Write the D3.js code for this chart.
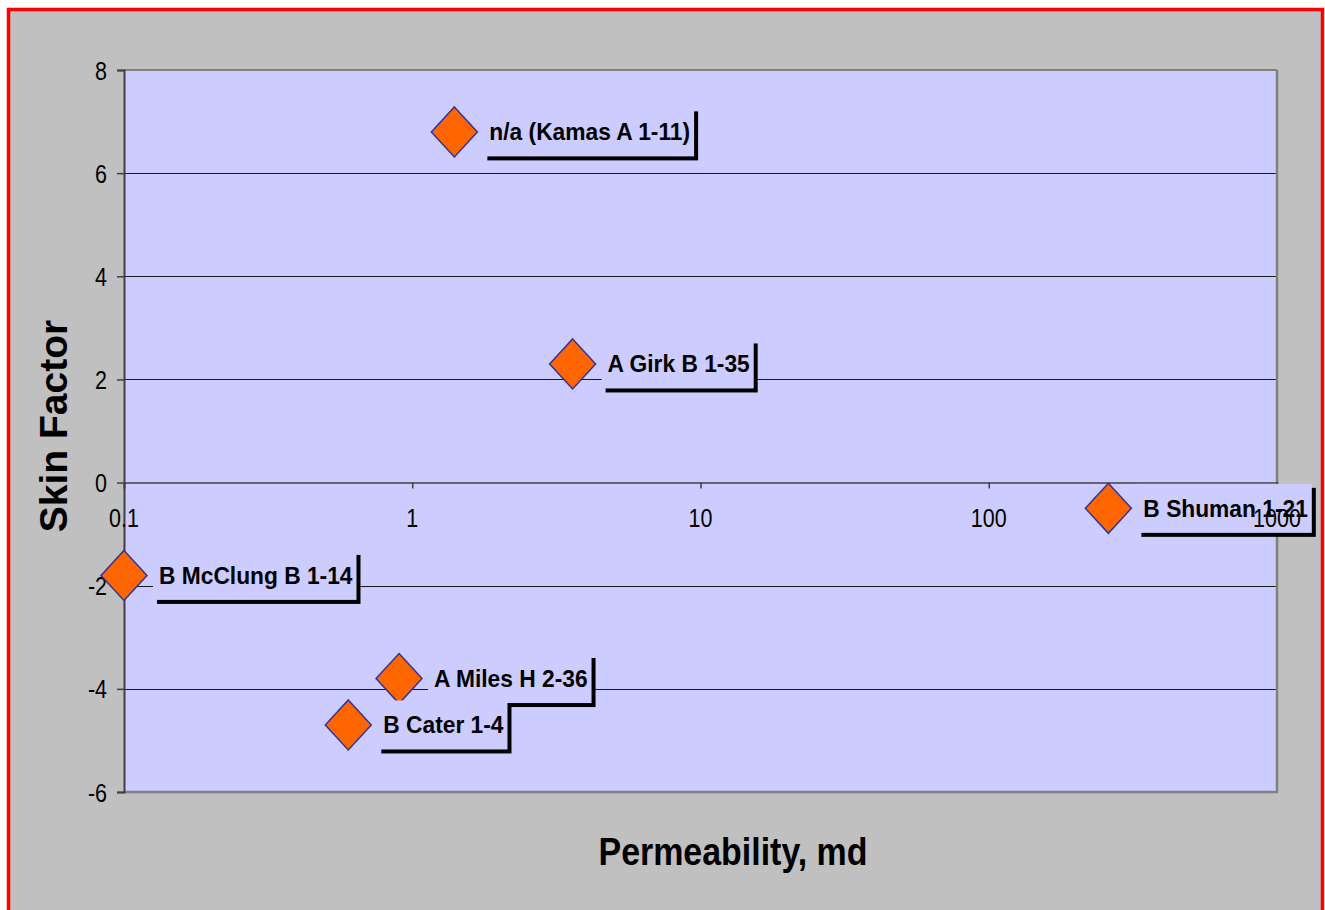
<!DOCTYPE html>
<html>
<head>
<meta charset="utf-8">
<script src="https://cdn.jsdelivr.net/npm/d3@7/dist/d3.min.js"></script>
<style>
  html, body { margin: 0; padding: 0; background: #ffffff; }
  svg { display: block; }
  text { font-family: "Liberation Sans", Arial, sans-serif; }
</style>
</head>
<body>
<svg id="chart" width="1325" height="910"></svg>
<script>
// ---- data ----
const wells = ["n/a (Kamas A 1-11)", "A Girk B 1-35", "B Shuman 1-21", "B McClung B 1-14", "A Miles H 2-36", "B Cater 1-4"];
const permeability = [1.4, 3.6, 260, 0.1, 0.9, 0.6];
const skinFactor = [6.8, 2.3, -0.5, -1.8, -3.8, -4.7];
const xTicks = [0.1, 1, 10, 100, 1000];
const xTickLabels = ["0.1", "1", "10", "100", "1000"];
const yTicks = [-6, -4, -2, 0, 2, 4, 6, 8];
const yTickLabels = ["-6", "-4", "-2", "0", "2", "4", "6", "8"];
const xTitle = "Permeability, md";
const yTitle = "Skin Factor";

const svg = d3.select("#chart");
const plot = { left: 124, top: 70, right: 1277, bottom: 792 };

// outer background + red frame
svg.append("rect").attr("x", 8.5).attr("y", 9.5).attr("width", 1314).attr("height", 920)
  .attr("fill", "#C0C0C0").attr("stroke", "#FF0000").attr("stroke-width", 3.5);

const x = d3.scaleLog().domain([0.1, 1000]).range([plot.left, plot.right]);
const y = d3.scaleLinear().domain([-6, 8]).range([plot.bottom, plot.top]);

// plot area
svg.append("rect").attr("x", plot.left).attr("y", plot.top)
  .attr("width", plot.right - plot.left).attr("height", plot.bottom - plot.top)
  .attr("fill", "#CCCCFF");

// gridlines
svg.append("g").selectAll("line").data(yTicks.filter(d => d !== 0 && d !== -6 && d !== 8)).join("line")
  .attr("x1", plot.left).attr("x2", plot.right)
  .attr("y1", d => Math.round(y(d)) + 0.5).attr("y2", d => Math.round(y(d)) + 0.5)
  .attr("stroke", "#1a1a1a").attr("stroke-width", 1);

// plot border (top light, right/bottom grey)
svg.append("line").attr("x1", plot.left).attr("x2", plot.right).attr("y1", plot.top).attr("y2", plot.top)
  .attr("stroke", "#808080").attr("stroke-width", 2);
svg.append("line").attr("x1", plot.right).attr("x2", plot.right).attr("y1", plot.top).attr("y2", plot.bottom + 1)
  .attr("stroke", "#808080").attr("stroke-width", 2.5);
svg.append("line").attr("x1", plot.left).attr("x2", plot.right + 1).attr("y1", plot.bottom).attr("y2", plot.bottom)
  .attr("stroke", "#808080").attr("stroke-width", 2.5);

// y axis
const yAxis = d3.axisLeft(y).tickValues(yTicks).tickSize(7).tickPadding(10)
  .tickFormat(d => yTickLabels[yTicks.indexOf(d)]);
const gy = svg.append("g").attr("transform", `translate(${plot.left},0)`).call(yAxis);
gy.select(".domain").attr("stroke", "#404040").attr("stroke-width", 2);
gy.selectAll(".tick line").attr("stroke", "#404040").attr("stroke-width", 1.5);
gy.selectAll(".tick text").attr("font-size", 25).attr("fill", "#000")
  .attr("font-family", '"Liberation Sans", Arial, sans-serif')
  .attr("transform", "translate(-17,0) scale(0.86,1) translate(17,0)")
  .attr("dy", "0.36em");

// x axis at y = 0
const xAxis = d3.axisBottom(x).tickValues(xTicks).tickSize(6).tickFormat((d, i) => xTickLabels[i]);
const gx = svg.append("g").attr("transform", `translate(0,${y(0)})`).call(xAxis);
gx.select(".domain").attr("stroke", "#404040").attr("stroke-width", 1.5);
gx.selectAll(".tick line").attr("stroke", "#404040").attr("stroke-width", 1.5);
gx.selectAll(".tick text").remove();

// markers
const diamond = "M0,-25 L23,0 L0,25 L-23,0 Z";
const pts = wells.map((w, i) => ({ name: w, k: permeability[i], s: skinFactor[i] }));
svg.append("g").selectAll("path").data(pts).join("path")
  .attr("d", diamond)
  .attr("transform", d => `translate(${x(d.k)},${y(d.s)})`)
  .attr("fill", "#FF6600").attr("stroke", "#333399").attr("stroke-width", 1.5);

// labels with shadow boxes
const lblSize = 23, lblScale = 0.99;
pts.forEach(d => {
  const cx = x(d.k), cy = y(d.s);
  const g = svg.append("g");
  const shadow = g.append("rect");
  const box = g.append("rect");
  const tx = cx + 29 + 6;
  const t = g.append("text").text(d.name)
    .attr("font-size", lblSize).attr("font-weight", "bold").attr("fill", "#000")
    .attr("transform", `translate(${tx},${cy + 8.5}) scale(${lblScale},1)`);
  const tw = t.node().getComputedTextLength() * lblScale;
  const bx = cx + 29, by = cy - 24.5, bw = tw + 10, bh = 49;
  shadow.attr("x", bx + 4).attr("y", by + 4).attr("width", bw).attr("height", bh).attr("fill", "#000");
  box.attr("x", bx).attr("y", by).attr("width", bw).attr("height", bh).attr("fill", "#CCCCFF");
});

// x tick labels (drawn on top)
svg.append("g").selectAll("text").data(xTicks).join("text")
  .text((d, i) => xTickLabels[i])
  .attr("text-anchor", "middle").attr("font-size", 25).attr("fill", "#000")
  .attr("transform", d => `translate(${x(d)},${y(0) + 44}) scale(0.86,1)`);

// axis titles
svg.append("text").text(xTitle)
  .attr("text-anchor", "middle").attr("font-size", 39).attr("font-weight", "bold").attr("fill", "#000")
  .attr("transform", `translate(733,865) scale(0.87,1)`);
svg.append("text").text(yTitle)
  .attr("text-anchor", "middle").attr("font-size", 39).attr("font-weight", "bold").attr("fill", "#000")
  .attr("transform", `translate(67,426) rotate(-90)`);
</script>
</body>
</html>
